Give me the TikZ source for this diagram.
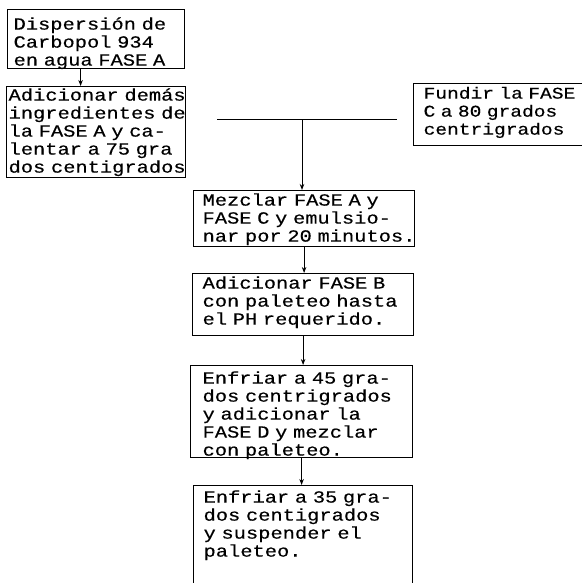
\documentclass[tikz,border=0pt]{standalone}
\usepackage{fontspec}
\newfontfamily\tw[FakeStretch=1.2,FakeBold=0.4]{Liberation Mono}
\usetikzlibrary{arrows.meta}
\newcommand\lns[1]{\begin{tabular}[t]{@{}l@{}}#1\end{tabular}}
\tikzset{
  box/.style={draw, line width=1.2pt, anchor=north west, inner ysep=0pt,
    align=left, font=\tw\fontsize{17}{18}\selectfont},
  arr/.style={-{Stealth[length=6pt,width=4.5pt]}, line width=1pt},
  ln/.style={line width=1pt}
}
\begin{document}
\begin{tikzpicture}[x=1pt,y=-1pt]
\useasboundingbox (0,0) rectangle (581,583);
% box 1
\node[box, inner xsep=6pt, text width=165pt, text height=20pt, text depth=39pt] (b1) at (7,9)
  {\lns{Dispersión de\\Carbopol 934\\en agua FASE A}};
% box 2
\node[box, inner xsep=2pt, text width=175pt, text height=14pt, text depth=77pt] (b2) at (6,86)
  {\lns{Adicionar demás\\ingredientes de\\la FASE A y ca-\\lentar a 75 gra\\dos centigrados}};
% Fundir
\node[box, font=\tw\fontsize{16.3}{18}\selectfont, inner xsep=10pt, text width=160pt, text height=15pt, text depth=47pt] (fc) at (413,83)
  {\lns{Fundir la FASE\\C a 80 grados\\centrigrados}};
% Mezclar
\node[box, inner xsep=9pt, text width=203pt, text height=15pt, text depth=41pt] (mz) at (193,190)
  {\lns{Mezclar FASE A y\\FASE C y emulsio-\\nar por 20 minutos.}};
% FASE B
\node[box, inner xsep=10pt, text width=201pt, text height=15pt, text depth=47pt] (fb) at (192,273)
  {\lns{Adicionar FASE B\\con paleteo hasta\\el PH requerido.}};
% FASE D
\node[box, inner xsep=12pt, text width=198pt, text height=18pt, text depth=74pt] (fd) at (190,365)
  {\lns{Enfriar a 45 gra-\\dos centrigrados\\y adicionar la\\FASE D y mezclar\\con paleteo.}};
% last
\node[box, inner xsep=10pt, text width=199pt, text height=17pt, text depth=113pt] (ls) at (193,485)
  {\lns{Enfriar a 35 gra-\\dos centigrados\\y suspender el\\paleteo.}};
% connectors
\draw[arr] ([xshift=-15.5pt]b1.south) -- ([xshift=-15.5pt]b1.south |- b2.north);
\coordinate (jl) at (217,119.5);
\coordinate (jr) at (397,119.5);
\coordinate (jm) at (302,119.5);
\draw[ln] (jl) -- (jr);
\draw[arr] (jm) -- (jm |- mz.north);
\draw[arr] (mz.south) -- (mz.south |- fb.north);
\draw[arr] (fb.south) -- (fb.south |- fd.north);
\draw[arr] (fd.south) -- (fd.south |- ls.north);
\end{tikzpicture}
\end{document}
